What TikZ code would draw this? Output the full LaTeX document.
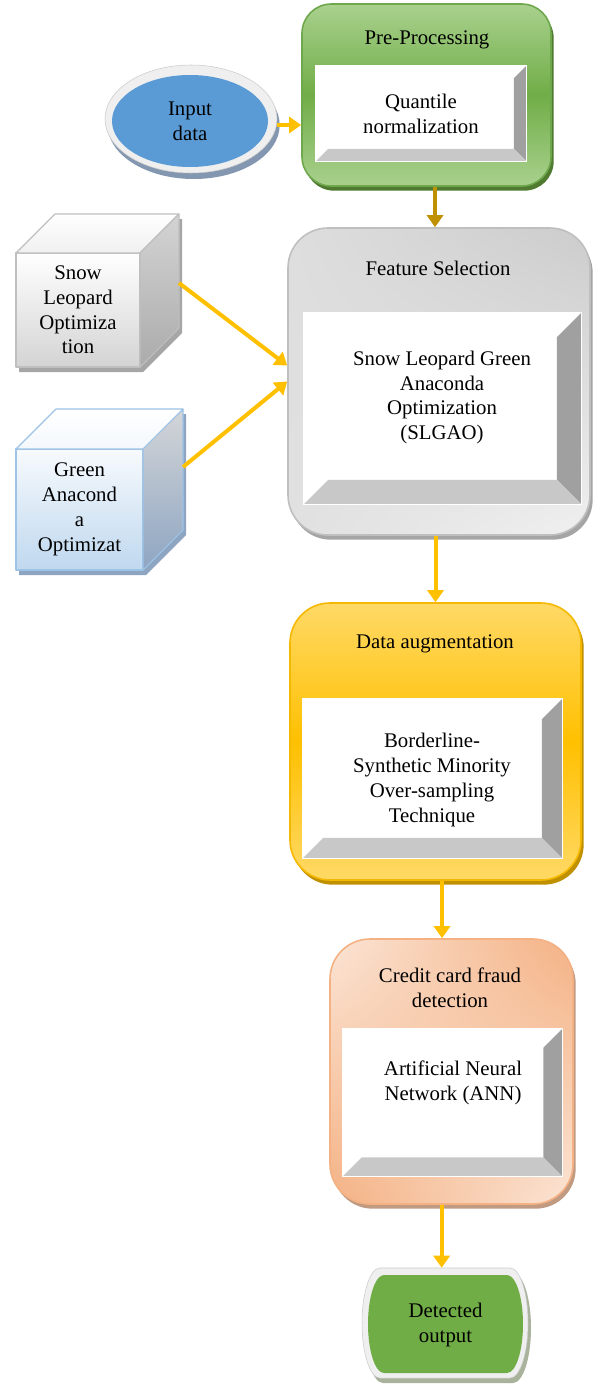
\documentclass[tikz,border=0pt]{standalone}
\usepackage{fontspec}
\setmainfont{Liberation Serif}
\usetikzlibrary{shapes.geometric,arrows.meta,shadows,shadings}

% arrows
\definecolor{flowgold}{HTML}{FFC000}
\definecolor{flowdark}{HTML}{BF9000}
% pre-processing stage
\definecolor{preedge}{HTML}{6FA84C}
\definecolor{prelight}{HTML}{A9D18E}
\definecolor{premid}{HTML}{70AD47}
\definecolor{preshadow}{HTML}{4F7A30}
% feature selection stage
\definecolor{featedge}{HTML}{BFBFBF}
\definecolor{featshadow}{HTML}{A5A5A5}
% data augmentation stage
\definecolor{dataedge}{HTML}{F5B800}
\definecolor{datatop}{HTML}{FFD966}
\definecolor{datamid}{HTML}{FFC000}
\definecolor{datashadow}{HTML}{BF9000}
% fraud detection stage
\definecolor{credlight}{HTML}{FBE5D6}
\definecolor{creddark}{HTML}{F4B183}
\definecolor{credshadow}{HTML}{C19A82}
% bevelled panels
\definecolor{bevdark}{HTML}{A0A0A0}
\definecolor{bevlight}{HTML}{C8C8C8}
% cubes
\definecolor{sledge}{HTML}{BFBFBF}
\definecolor{slshadow}{HTML}{A6A6A6}
\definecolor{gaedge}{HTML}{9DC3E6}
\definecolor{gashadow}{HTML}{8EA5C2}
% terminals
\definecolor{ringgray}{HTML}{EFEFEF}
\definecolor{inblue}{HTML}{5B9BD5}
\definecolor{inshadow}{HTML}{8497B0}
\definecolor{outgreen}{HTML}{70AD47}
\definecolor{outshadow}{HTML}{A9B39C}

% right and bottom faces of a bevelled panel: #1 node, #2 bevel depth
\newcommand\panelbevel[2]{%
  \fill[bevright] ([shift={(-1pt,-1pt)}]#1.north east) -- ([shift={(-#2-1pt,-#2-1pt)}]#1.north east)
     -- ([shift={(-#2-1pt,#2+1pt)}]#1.south east) -- ([shift={(-1pt,1pt)}]#1.south east) -- cycle;
  \fill[bevbottom] ([shift={(1pt,1pt)}]#1.south west) -- ([shift={(#2+1pt,#2+1pt)}]#1.south west)
     -- ([shift={(-#2-1pt,#2+1pt)}]#1.south east) -- ([shift={(-1pt,1pt)}]#1.south east) -- cycle;}

% flat-topped terminal with half-elliptic ends:
% #1 left x of top edge, #2 right x of top edge, #3 top y, #4 bottom y, #5 end radius, #6 half height
\newcommand\terminalpath[6]{(#1,#3) -- (#2,#3)
  arc[start angle=90, end angle=-90, x radius=#5, y radius=#6] -- (#1,#4)
  arc[start angle=270, end angle=90, x radius=#5, y radius=#6] -- cycle}

\begin{document}
\begin{tikzpicture}[x=0.75pt,y=-0.75pt,
  every node/.style={font=\fontsize{15.6}{18.6}\selectfont, align=center, inner sep=0pt, text=black},
  flow/.style={line width=3pt, draw=flowgold, -{Triangle[width=12pt,length=9pt]}},
  stagebox/.style={draw, line width=1.2pt, rounded corners=30pt},
  panel/.style={fill=white},
  bevright/.style={fill=bevdark},
  bevbottom/.style={fill=bevlight},
  boxshadow/.style={drop shadow={shadow xshift=2pt, shadow yshift=-3.5pt, fill=#1, opacity=1}},
  cubeline/.style={line width=0.8pt, line join=round},
]
\fill[white] (0,0) rectangle (595,1384);
\useasboundingbox (0,0) rectangle (595,1384);

% ---------- input terminal ----------
\node[ellipse, fill=ringgray, draw=ringgray!85!black, line width=0.4pt,
      minimum width=129pt, minimum height=81pt,
      drop shadow={shadow xshift=2pt, shadow yshift=-4.5pt, fill=inshadow, opacity=1}]
      (input) at (191,119) {};
\node[ellipse, fill=inblue, minimum width=117pt, minimum height=69pt]
      (inputcore) at (190,121) {Input\\data};

% ---------- pre-processing ----------
\node[stagebox, rounded corners=22pt, draw=preedge, top color=prelight, bottom color=prelight,
      middle color=premid, boxshadow=preshadow, minimum width=186.75pt, minimum height=136.5pt]
      (pre) at (426.5,95) {};
\node (pretitle) at (427,39.5) {Pre-Processing};
\node[panel, minimum width=159pt, minimum height=72.75pt] (prepanel) at (421,113.5) {};
\panelbevel{prepanel}{9pt}
\node (pretext) at (421,113.5) {Quantile\\normalization};

% ---------- feature selection ----------
\node[stagebox, draw=featedge, upper left=black!13, upper right=black!20, lower left=black!12,
      lower right=black!6, boxshadow=featshadow, minimum width=226.5pt, minimum height=230.25pt]
      (feat) at (439,381.5) {};
\node (feattitle) at (438,268) {Feature Selection};
\node[panel, minimum width=209.25pt, minimum height=144.75pt] (featpanel) at (442.5,408.5) {};
\panelbevel{featpanel}{18pt}
\node (feattext) at (442,397.5) {Snow Leopard Green\\Anaconda\\Optimization\\(SLGAO)};

% ---------- data augmentation ----------
\node[stagebox, draw=dataedge, top color=datatop, bottom color=datatop, middle color=datamid,
      boxshadow=datashadow, minimum width=218.25pt, minimum height=207.75pt]
      (data) at (435.5,741.5) {};
\node (datatitle) at (435,643.5) {Data augmentation};
\node[panel, minimum width=195.75pt, minimum height=120.75pt] (datapanel) at (432.5,778.5) {};
\panelbevel{datapanel}{15pt}
\node (datatext) at (432,780) {Borderline-\\Synthetic Minority\\Over-sampling\\Technique};

% ---------- fraud detection ----------
\node[stagebox, draw=creddark, upper left=credlight, upper right=creddark, lower left=creddark,
      lower right=credlight, boxshadow=credshadow, minimum width=182.25pt, minimum height=198.75pt]
      (cred) at (451.5,1071.5) {};
\node (credtitle) at (450,987.5) {Credit card fraud\\detection};
\node[panel, minimum width=165.75pt, minimum height=111.75pt] (credpanel) at (452.5,1102.5) {};
\panelbevel{credpanel}{14pt}
\node (credtext) at (453,1082.5) {Artificial Neural\\Network (ANN)};

% ---------- output terminal ----------
\fill[outshadow] \terminalpath{383}{513}{1273}{1383}{13.5pt}{41.25pt};
\filldraw[fill=ringgray, draw=ringgray!85!black, line width=0.4pt]
      \terminalpath{380}{510}{1268}{1378}{13.5pt}{41.25pt};
\fill[outgreen] \terminalpath{384}{507}{1275}{1373}{12pt}{36.75pt};
\node[minimum width=124.5pt, minimum height=82.5pt] (out) at (445,1323) {};
\node (outtext) at (445.5,1325) {Detected\\output};

% ---------- snow leopard cube ----------
\fill[slshadow] (19,372) -- (19,258) -- (58,219) -- (182,219) -- (182,333) -- (143,372) -- cycle;
\node[draw=sledge, cubeline, top color=white, bottom color=black!17,
      minimum width=93pt, minimum height=85.5pt] (slo) at (78,310) {Snow\\Leopard\\Optimiza\\tion};
\path[draw=sledge, cubeline, top color=white, bottom color=black!6]
      (16,253) -- (55,214) -- (179,214) -- (140,253) -- cycle;
\path[draw=sledge, cubeline, top color=black!17, bottom color=black!33]
      (140,253) -- (179,214) -- (179,328) -- (140,367) -- cycle;
\coordinate (slo-side) at (179,283);

% ---------- green anaconda cube ----------
\fill[gashadow] (19,575) -- (19,454) -- (59,414) -- (186,414) -- (186,535) -- (146,575) -- cycle;
\node[draw=gaedge, cubeline, top color=gaedge!8, bottom color=gaedge!65,
      minimum width=95.25pt, minimum height=90.75pt] (gao) at (79.5,509.5) {Green\\Anacond\\a\\Optimizat};
\path[draw=gaedge, cubeline, top color=white, bottom color=gaedge!12]
      (16,449) -- (56,409) -- (183,409) -- (143,449) -- cycle;
\path[draw=gaedge, cubeline, top color=gaedge!25!black!20, bottom color=gashadow]
      (143,449) -- (183,409) -- (183,530) -- (143,570) -- cycle;
\coordinate (gao-side) at (183,467);

% ---------- connectors ----------
\draw[flow] ([yshift=-4.5pt]input.east) -- ([yshift=-4.5pt]input.east -| pre.west);
\draw[flow, draw=flowdark] ([xshift=6.4pt]pre.south) -- ([xshift=6.4pt]pre.south |- feat.north);
\draw[flow] (slo-side) -- ([yshift=12pt]feat.west);
\draw[flow] (gao-side) -- (feat.west);
\draw[flow] (data.north |- feat.south) -- (data.north);
\draw[flow] ([xshift=4.9pt]data.south) -- ([xshift=4.9pt]data.south |- cred.north);
\draw[flow] ([xshift=-2.5pt]out.north |- cred.south) -- ([xshift=-2.5pt]out.north);
\end{tikzpicture}
\end{document}
